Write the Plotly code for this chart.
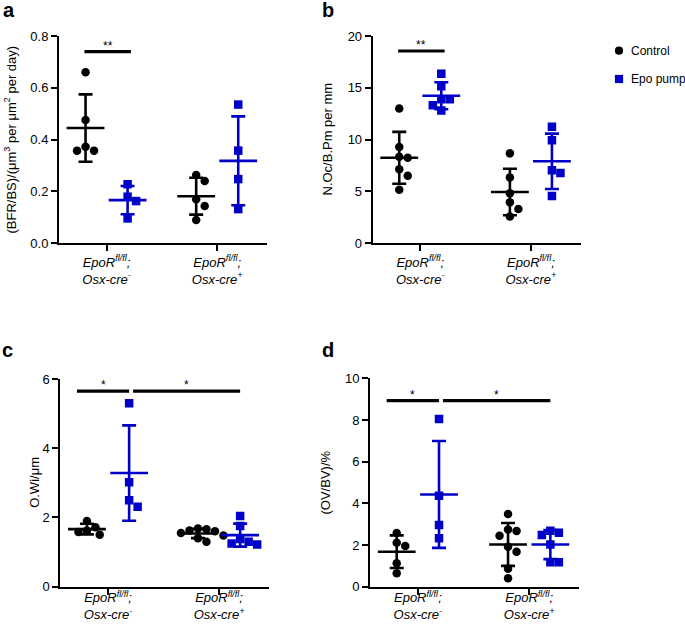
import numpy as np
import plotly.graph_objects as go

# ---------------- data ----------------
group_positions = [0, 1]
tick_text = [
    "<i>EpoR<sup>fl/fl</sup>;</i><br><i>Osx-cre<sup>-</sup></i>",
    "<i>EpoR<sup>fl/fl</sup>;</i><br><i>Osx-cre<sup>+</sup></i>",
]
series_names = ["Control", "Epo pump"]

# panel a: (BFR/BS)
a_control = [[0.66, 0.475, 0.372, 0.357, 0.357], [0.263, 0.24, 0.169, 0.143, 0.089]]
a_epo = [[0.227, 0.179, 0.162, 0.095], [0.535, 0.357, 0.247, 0.131]]
# panel b: N.Oc/B.Pm
b_control = [[13.0, 9.27, 8.34, 8.24, 7.12, 6.5, 5.15], [8.66, 6.34, 4.8, 3.93, 3.29, 2.55]]
b_epo = [[16.36, 15.14, 13.9, 13.9, 13.3, 12.79], [11.24, 9.92, 7.02, 6.76, 4.54]]
# panel c: O.Wi
c_control = [[1.9, 1.72, 1.62, 1.58, 1.5], [1.68, 1.66, 1.62, 1.6, 1.55, 1.48, 1.4, 1.3]]
c_epo = [[5.3, 3.02, 2.5, 2.31], [2.04, 1.75, 1.38, 1.3, 1.25, 1.22]]
# panel d: OV/BV
d_control = [[2.58, 2.11, 1.95, 1.12, 0.64], [3.49, 2.75, 2.67, 2.45, 1.92, 1.68, 0.86, 0.4]]
d_epo = [[8.05, 4.37, 2.96, 2.32], [2.69, 2.59, 2.48, 2.03, 1.17, 1.17]]

# significance comparisons: (from group, from series, to group, to series, level, label)
a_sig = [(0, 0, 0, 1, 0.74, "**")]
b_sig = [(0, 0, 0, 1, 18.55, "**")]
c_sig = [(0, 0, 0, 1, 5.65, "*"), (0, 1, 1, 1, 5.65, "*")]
d_sig = [(0, 0, 0, 1, 8.93, "*"), (0, 1, 1, 1, 8.93, "*")]

# ---------------- style / layout ----------------
W, H = 685, 624
FONT = "Arial, 'Liberation Sans', sans-serif"
COLORS = ["#000000", "#0000C8"]
SYMBOLS = ["circle", "square"]
SIZES = [8.5, 8.5]
SERIES_OFFSET = 0.19
XRANGE = [-0.43, 1.45]


def px(x):
    return x / W


def py(y):
    return 1 - y / H


panels = [
    dict(name="a", control=a_control, epo=a_epo, sig=a_sig,
         xdom=[59, 267], ydom=[36, 243], yrange=[0, 0.8], dtick=0.2, fmt=".1f",
         ytitle="(BFR/BS)/(μm<sup>3</sup> per μm<sup>2</sup> per day)", title_x=10,
         letter_xy=(9, 10), sig_pad=(0.01, 0.03), lab_standoff=0),
    dict(name="b", control=b_control, epo=b_epo, sig=b_sig,
         xdom=[372.7, 580.7], ydom=[36, 243], yrange=[0, 20], dtick=5, fmt="d",
         ytitle="N.Oc/B.Pm per mm", title_x=327,
         letter_xy=(328, 10), sig_pad=(0.01, 0.03), lab_standoff=0),
    dict(name="c", control=c_control, epo=c_epo, sig=c_sig,
         xdom=[60.3, 269], ydom=[379, 586.7], yrange=[0, 6], dtick=2, fmt="d",
         ytitle="O.Wi/μm", title_x=35,
         letter_xy=(8, 350), sig_pad=(0.09, 0.0), lab_standoff=-8),
    dict(name="d", control=d_control, epo=d_epo, sig=d_sig,
         xdom=[370, 579.3], ydom=[378.3, 586.7], yrange=[0, 10], dtick=2, fmt="d",
         ytitle="(OV/BV)/%", title_x=325,
         letter_xy=(328, 350), sig_pad=(0.09, 0.0), lab_standoff=-8),
]


def swarm(vals, ppu_y, ppu_x, d):
    """Deterministic beeswarm offsets (in category units)."""
    placed, offs = [], []
    step = d * 0.5
    cands = [0]
    for i in range(1, 12):
        cands += [i, -i]
    for v in vals:
        y = v * ppu_y
        xsel = 0
        for c in cands:
            x = c * step
            if all((x - a) ** 2 + (y - b) ** 2 >= (0.95 * d) ** 2 for a, b in placed):
                xsel = x
                break
        placed.append((xsel, y))
        offs.append(xsel / ppu_x)
    return offs


fig = go.Figure()
layout = dict(
    width=W, height=H, margin=dict(l=0, r=0, t=0, b=0),
    paper_bgcolor="white", plot_bgcolor="white", showlegend=False,
    font=dict(family=FONT, size=13, color="#000000"),
)
annotations, shapes = [], []

for i, p in enumerate(panels):
    sfx = "" if i == 0 else str(i + 1)
    xa, ya = "x" + sfx, "y" + sfx
    ppu_x = (p["xdom"][1] - p["xdom"][0]) / (XRANGE[1] - XRANGE[0])
    ppu_y = (p["ydom"][1] - p["ydom"][0]) / (p["yrange"][1] - p["yrange"][0])

    layout["xaxis" + sfx] = dict(
        domain=[px(p["xdom"][0]), px(p["xdom"][1])], anchor=ya, range=XRANGE,
        tickvals=group_positions, ticktext=tick_text, showline=True, linecolor="black",
        linewidth=2, ticks="outside", ticklen=6, tickwidth=2, tickcolor="black",
        showgrid=False, zeroline=False, automargin=False, fixedrange=True,
        tickfont=dict(size=13, family=FONT), ticklabelstandoff=p["lab_standoff"],
    )
    layout["yaxis" + sfx] = dict(
        domain=[py(p["ydom"][1]), py(p["ydom"][0])], anchor=xa, range=p["yrange"],
        dtick=p["dtick"], tick0=0, tickformat=p["fmt"], showline=True, linecolor="black",
        linewidth=2, ticks="outside", ticklen=6, tickwidth=2, tickcolor="black",
        showgrid=False, zeroline=False, automargin=False, fixedrange=True,
        tickfont=dict(size=13, family=FONT),
    )

    series = [p["control"], p["epo"]]
    for s, groups in enumerate(series):
        for g, vals in enumerate(groups):
            center = group_positions[g] + (2 * s - 1) * SERIES_OFFSET
            offs = swarm(vals, ppu_y, ppu_x, SIZES[s])
            fig.add_trace(go.Scatter(
                x=[center + o for o in offs], y=vals, xaxis=xa, yaxis=ya, mode="markers",
                marker=dict(symbol=SYMBOLS[s], size=SIZES[s], color=COLORS[s], line=dict(width=0)),
                name=series_names[s], hoverinfo="y",
            ))
    for s, groups in enumerate(series):
        for g, vals in enumerate(groups):
            center = group_positions[g] + (2 * s - 1) * SERIES_OFFSET
            arr = np.array(vals, dtype=float)
            fig.add_trace(go.Scatter(
                x=[center], y=[arr.mean()], xaxis=xa, yaxis=ya, mode="markers",
                marker=dict(symbol="line-ew", size=27, color=COLORS[s],
                            line=dict(width=2.6, color=COLORS[s])),
                error_y=dict(type="data", array=[arr.std(ddof=1)], color=COLORS[s],
                             thickness=2.6, width=7),
                hoverinfo="y", name=series_names[s] + " mean±SD",
            ))

    # significance bars
    for (g1, s1, g2, s2, lvl, lab) in p["sig"]:
        x0 = group_positions[g1] + (2 * s1 - 1) * SERIES_OFFSET - p["sig_pad"][0]
        x1 = group_positions[g2] + (2 * s2 - 1) * SERIES_OFFSET + p["sig_pad"][1]
        if g1 != g2 or s1 == 1:
            x0 = group_positions[g1] + (2 * s1 - 1) * SERIES_OFFSET + 0.035
        shapes.append(dict(type="line", xref=xa, yref=ya, x0=x0, x1=x1, y0=lvl, y1=lvl,
                           line=dict(color="black", width=3.2)))
        annotations.append(dict(xref=xa, yref=ya, x=(x0 + x1) / 2, y=lvl, text=lab,
                                showarrow=False, yanchor="bottom", yshift=-3,
                                font=dict(size=12, family=FONT)))

    # y title
    annotations.append(dict(xref="paper", yref="paper", x=px(p["title_x"]),
                            y=py((p["ydom"][0] + p["ydom"][1]) / 2), text=p["ytitle"],
                            textangle=-90, showarrow=False, xanchor="center", yanchor="middle",
                            font=dict(size=13, family=FONT)))
    # panel letter
    annotations.append(dict(xref="paper", yref="paper", x=px(p["letter_xy"][0]),
                            y=py(p["letter_xy"][1]), text="<b>" + p["name"] + "</b>",
                            showarrow=False, xanchor="center", yanchor="middle",
                            font=dict(size=20, family=FONT)))

# legend (drawn manually to match spacing)
leg_items = [(50.7, "circle"), (79.0, "rect")]
for (yc, shp), name, col in zip(leg_items, series_names, COLORS):
    r = 4.1
    shapes.append(dict(type=shp, xref="paper", yref="paper",
                       x0=px(619 - r), x1=px(619 + r), y0=py(yc + r), y1=py(yc - r),
                       fillcolor=col, line=dict(width=0)))
    annotations.append(dict(xref="paper", yref="paper", x=px(629), y=py(yc), text=name,
                            showarrow=False, xanchor="left", yanchor="middle",
                            font=dict(size=12, family=FONT)))

layout["annotations"] = annotations
layout["shapes"] = shapes
fig.update_layout(**layout)
fig.write_html("out.html", config={"displayModeBar": False},
               post_script="document.body.style.margin='0px';document.body.style.overflow='hidden';")
